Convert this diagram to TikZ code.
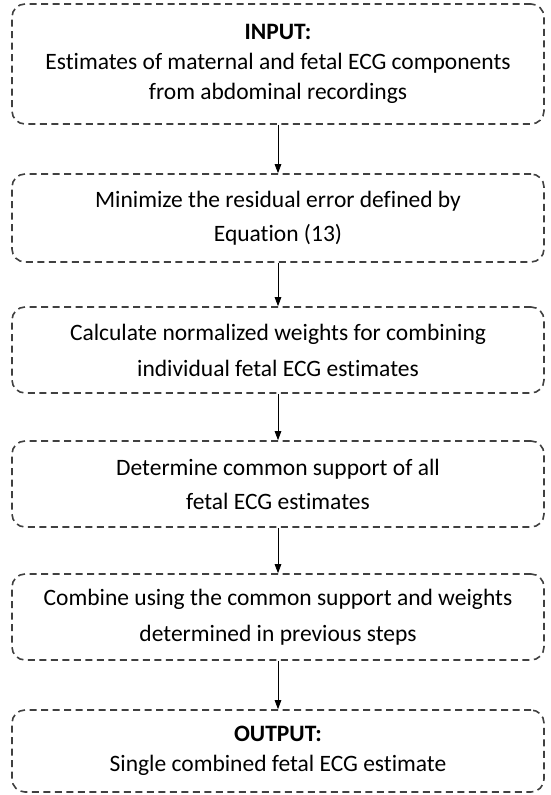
\documentclass[tikz,border=0pt]{standalone}
\usepackage{fontspec}
\setmainfont[Ligatures={NoCommon,NoRare,NoContextual}]{Carlito}
\usetikzlibrary{arrows.meta}
\begin{document}
\begin{tikzpicture}[x=1pt,y=-1pt,
  stepbox/.style={draw=black!75, line width=1.6pt, dash pattern=on 7pt off 4.5pt,
    rounded corners=13pt, minimum width=532pt, align=center, inner sep=0pt,
    font=\fontsize{23.5}{30}\selectfont, text=black},
  conn/.style={line width=0.9pt, -{Triangle[length=9pt,width=6.5pt]}}]
\useasboundingbox (0,0) rectangle (551,795);
\node[stepbox, minimum height=120pt] (b1) at (278,64)
  {\textbf{INPUT:}\\Estimates of maternal and fetal ECG components\\from abdominal recordings};
\node[stepbox, minimum height=88pt] (b2) at (278,218)
  {Minimize the residual error defined by\\[4pt]Equation (13)};
\node[stepbox, minimum height=86pt] (b3) at (278,350)
  {Calculate normalized weights for combining\\[6pt]individual fetal ECG estimates};
\node[stepbox, minimum height=86pt] (b4) at (278,484)
  {Determine common support of all\\[4pt]fetal ECG estimates};
\node[stepbox, minimum height=86pt] (b5) at (278,617)
  {Combine using the common support and weights\\[6pt]determined in previous steps};
\node[stepbox, minimum height=82pt] (b6) at (278,751)
  {\textbf{OUTPUT:}\\Single combined fetal ECG estimate};
\draw[conn] (b1) -- (b2);
\draw[conn] (b2) -- (b3);
\draw[conn] (b3) -- (b4);
\draw[conn] (b4) -- (b5);
\draw[conn] (b5) -- (b6);
\end{tikzpicture}
\end{document}
